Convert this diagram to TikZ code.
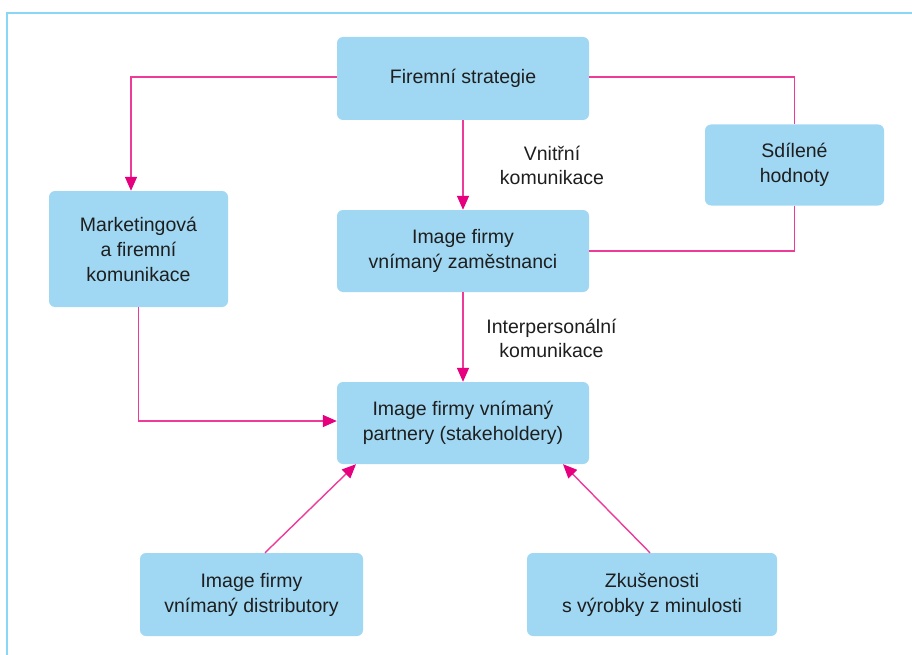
\documentclass[tikz,border=0pt]{standalone}
\usepackage{fontspec}
\setmainfont{Liberation Sans}
\usetikzlibrary{arrows.meta}
\definecolor{boxblue}{HTML}{A0D8F4}
\definecolor{framelblue}{HTML}{8AD6F6}
\definecolor{linkpink}{HTML}{EE3A98}
\definecolor{tippink}{HTML}{E6007E}
\definecolor{txtgray}{HTML}{1E1E1E}
\tikzset{
  box/.style={fill=boxblue, draw=none, rounded corners=6pt, align=center,
    text=txtgray, font=\fontsize{19.5}{25}\selectfont, inner sep=0pt},
  lbl/.style={align=center, text=txtgray, font=\fontsize{19.5}{24}\selectfont, inner sep=0pt},
  conn/.style={draw=linkpink, line width=1.4pt},
  arr/.style={-{Triangle[length=14pt,width=12pt,color=tippink]}}
}
\begin{document}
\begin{tikzpicture}[x=1pt,y=-1pt]
\useasboundingbox (0,0) rectangle (912,655);
\coordinate (fc1) at (7,655);
\coordinate (fc2) at (7,13);
\coordinate (fc3) at (912,13);
\draw[framelblue, line width=2.2pt] (fc1) -- (fc2) -- (fc3);

\node[box, minimum width=252, minimum height=83] (fs) at (463,78.5) {Firemní strategie};
\node[box, minimum width=179, minimum height=81] (sh) at (794.5,165) {Sdílené\\hodnoty};
\node[box, minimum width=179, minimum height=116] (mk) at (138.5,249) {Marketingová\\a firemní\\komunikace};
\node[box, minimum width=252, minimum height=82] (iz) at (463,251) {Image firmy\\vnímaný zaměstnanci};
\node[box, minimum width=252, minimum height=82] (pp) at (463,423) {Image firmy vnímaný\\partnery (stakeholdery)};
\node[box, minimum width=223, minimum height=83] (di) at (251.5,594.5) {Image firmy\\vnímaný distributory};
\node[box, minimum width=250, minimum height=83] (zk) at (652,594.5) {Zkušenosti\\s výrobky z minulosti};

\node[lbl] (l1) at (552,165) {Vnitřní\\komunikace};
\node[lbl] (l2) at (551.5,338) {Interpersonální\\komunikace};

\draw[conn,arr] ([yshift=1.5pt]fs.west) -| ([xshift=-7.5pt]mk.north);
\draw[conn] ([yshift=1.5pt]fs.east) -| (sh.north);
\draw[conn] (sh.south) |- (iz.east);
\draw[conn,arr] (fs.south) -- (iz.north);
\draw[conn,arr] (iz.south) -- (pp.north);
\draw[conn,arr] (mk.south) |- ([yshift=2pt]pp.west);
\draw[conn,arr] ([xshift=13.5pt]di.north) -- ([xshift=-107pt]pp.south);
\draw[conn,arr] ([xshift=-2pt]zk.north) -- ([xshift=100pt]pp.south);
\end{tikzpicture}
\end{document}
